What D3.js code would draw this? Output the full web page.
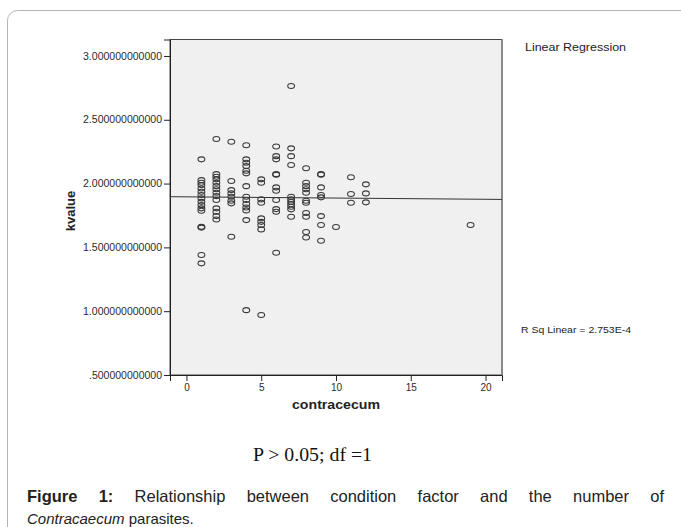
<!DOCTYPE html>
<html>
<head>
<meta charset="utf-8">
<script src="https://cdn.jsdelivr.net/npm/d3@7"></script>
<style>
  body { margin: 0; background: #fff; }
  text { font-family: "Liberation Sans", Arial, sans-serif; }
</style>
</head>
<body>
<div id="viz"></div>
<script>
'use strict';

const width = 681;
const height = 527;

// number of contracaecum parasites per fish (x) and the k values seen at each count
const counts = [1, 2, 3, 4, 5, 6, 7, 8, 9, 10, 11, 12, 19];
const kvalues = [
    [2.19, 2.027, 2.006, 1.988, 1.962, 1.936, 1.910, 1.884, 1.857, 1.831, 1.806, 1.787, 1.661, 1.655, 1.44, 1.375],
    [2.349, 2.074, 2.053, 2.033, 2.006, 1.980, 1.955, 1.928, 1.902, 1.871, 1.806, 1.779, 1.745, 1.719],
    [2.328, 2.02, 1.949, 1.923, 1.897, 1.865, 1.845, 1.583],
    [2.30, 2.19, 2.163, 2.137, 2.10, 2.08, 1.98, 1.897, 1.871, 1.84, 1.813, 1.79, 1.714, 1.008],
    [2.033, 2.006, 1.876, 1.85, 1.727, 1.70, 1.675, 1.641, 0.97],
    [2.29, 2.215, 2.19, 2.074, 2.07, 1.97, 1.944, 1.871, 1.80, 1.779, 1.458],
    [2.765, 2.276, 2.215, 2.145, 1.897, 1.876, 1.857, 1.838, 1.818, 1.798, 1.74],
    [2.12, 2.006, 1.98, 1.955, 1.928, 1.865, 1.85, 1.77, 1.74, 1.62, 1.578],
    [2.074, 2.07, 1.97, 1.91, 1.892, 1.745, 1.675, 1.552],
    [1.66],
    [2.049, 1.918, 1.85],
    [1.994, 1.923, 1.853],
    [1.675]
];

// fit line as drawn in the figure
const fitIntercept = 1.896;
const fitSlope = -0.00095;

const xTicks = [0, 5, 10, 15, 20];
const yTicks = [0.5, 1.0, 1.5, 2.0, 2.5, 3.0];
const yTickLabels = [".500000000000", "1.000000000000", "1.500000000000",
    "2.000000000000", "2.500000000000", "3.000000000000"];

const points = [];
counts.forEach((c, i) => {
    kvalues[i].forEach(k => points.push({ x: c, y: k }));
});

const svg = d3.select("#viz")
    .append("svg")
    .attr("width", width)
    .attr("height", height);

svg.append("rect")
    .attr("width", width)
    .attr("height", height)
    .attr("fill", "#fff");

// page frame
svg.append("rect")
    .attr("x", 7.5)
    .attr("y", 10.5)
    .attr("width", 720)
    .attr("height", 560)
    .attr("rx", 10)
    .attr("fill", "none")
    .attr("stroke", "#b4b4b4");

let x = d3.scaleLinear()
    .domain([-1.1, 21.1])
    .range([170, 502]);

let y = d3.scaleLinear()
    .domain([0.5, 3.129])
    .range([375, 39.5]);

// plot background
svg.append("rect")
    .attr("x", x.range()[0])
    .attr("y", y.range()[1])
    .attr("width", x.range()[1] - x.range()[0])
    .attr("height", y.range()[0] - y.range()[1])
    .attr("fill", "#f0f0f0")
    .attr("stroke", "#444")
    .attr("stroke-width", 1);

// right edge is drawn lighter and thicker in the original
svg.append("line")
    .attr("x1", x.range()[1])
    .attr("x2", x.range()[1])
    .attr("y1", y.range()[1])
    .attr("y2", y.range()[0])
    .attr("stroke", "#8a8a8a")
    .attr("stroke-width", 2);

const yAxis = svg.append("g")
    .attr("transform", `translate(${x.range()[0]},0)`)
    .call(d3.axisLeft(y)
        .tickValues(yTicks)
        .tickSize(6)
        .tickPadding(2)
        .tickFormat((d, i) => yTickLabels[i]));
yAxis.select(".domain").attr("stroke", "#222");
yAxis.selectAll(".tick line").attr("stroke", "#222");
yAxis.selectAll(".tick text")
    .attr("fill", "#2a2a2a")
    .style("font-size", "10px")
    .attr("textLength", (d, i) => i === 0 ? 73 : 79)
    .attr("lengthAdjust", "spacingAndGlyphs");

const xAxis = svg.append("g")
    .attr("transform", `translate(0,${y.range()[0]})`)
    .call(d3.axisBottom(x)
        .tickValues(xTicks)
        .tickSize(6)
        .tickPadding(3));
xAxis.select(".domain").attr("stroke", "#222");
xAxis.selectAll(".tick line").attr("stroke", "#222");
xAxis.selectAll(".tick text")
    .attr("fill", "#2a2a2a")
    .style("font-size", "10px");

// axis titles
svg.append("text")
    .attr("x", 336)
    .attr("y", 409)
    .attr("text-anchor", "middle")
    .attr("font-weight", "bold")
    .attr("fill", "#222")
    .style("font-size", "12.5px")
    .attr("textLength", 88)
    .attr("lengthAdjust", "spacingAndGlyphs")
    .text("contracecum");

svg.append("text")
    .attr("transform", "translate(75,211) rotate(-90)")
    .attr("text-anchor", "middle")
    .attr("font-weight", "bold")
    .attr("fill", "#222")
    .style("font-size", "13px")
    .text("kvalue");

// regression line
svg.append("line")
    .attr("x1", x(x.domain()[0]))
    .attr("x2", x(x.domain()[1]))
    .attr("y1", y(fitIntercept + fitSlope * x.domain()[0]))
    .attr("y2", y(fitIntercept + fitSlope * x.domain()[1]))
    .attr("stroke", "#333")
    .attr("stroke-width", 1);

// points
svg.append("g")
    .selectAll("ellipse")
    .data(points)
    .enter()
    .append("ellipse")
    .attr("cx", d => x(d.x))
    .attr("cy", d => y(d.y))
    .attr("rx", 3.4)
    .attr("ry", 2.5)
    .attr("fill", "none")
    .attr("stroke", "#3a3a3a")
    .attr("stroke-width", 1.1);

// legend texts
svg.append("text")
    .attr("x", 525)
    .attr("y", 51)
    .attr("fill", "#222")
    .style("font-size", "10px")
    .attr("textLength", 101)
    .attr("lengthAdjust", "spacingAndGlyphs")
    .text("Linear Regression");

svg.append("text")
    .attr("x", 521)
    .attr("y", 333)
    .attr("fill", "#222")
    .style("font-size", "9px")
    .attr("textLength", 110)
    .attr("lengthAdjust", "spacingAndGlyphs")
    .text("R Sq Linear = 2.753E-4");

// caption
svg.append("text")
    .attr("x", 253)
    .attr("y", 461)
    .attr("fill", "#111")
    .style("font-family", "'Liberation Serif', 'Times New Roman', serif")
    .style("font-size", "18px")
    .attr("textLength", 119)
    .attr("lengthAdjust", "spacingAndGlyphs")
    .text("P > 0.05; df =1");

// justified first caption line
const captionWords = [
    { t: "Figure", b: true }, { t: "1:", b: true }, { t: "Relationship" }, { t: "between" },
    { t: "condition" }, { t: "factor" }, { t: "and" }, { t: "the" }, { t: "number" }, { t: "of" }
];
const capLeft = 27, capRight = 664;
const capG = svg.append("g");
let capTexts = capG.selectAll("text")
    .data(captionWords)
    .enter()
    .append("text")
    .attr("y", 502)
    .attr("fill", "#222")
    .attr("font-weight", d => d.b ? "bold" : "normal")
    .style("font-size", "16.5px")
    .text(d => d.t);
let widths = [];
capTexts.each(function() { widths.push(this.getComputedTextLength()); });
let gap = (capRight - capLeft - d3.sum(widths)) / (widths.length - 1);
let pos = capLeft;
capTexts.attr("x", (d, i) => {
    let p = pos;
    pos += widths[i] + gap;
    return p;
});

const line2 = svg.append("text")
    .attr("x", capLeft)
    .attr("y", 524)
    .attr("fill", "#222")
    .style("font-size", "15px");
line2.append("tspan").attr("font-style", "italic").text("Contracaecum");
line2.append("tspan").text(" parasites.");
</script>
</body>
</html>
